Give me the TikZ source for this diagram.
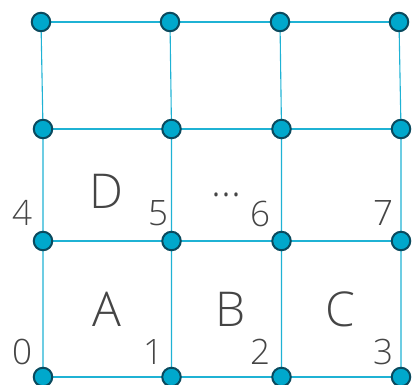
\documentclass[tikz,border=0pt]{standalone}
\usepackage{fontspec}
\setmainfont{Open Sans Light}
\usetikzlibrary{backgrounds}
\definecolor{edgec}{HTML}{1FB2D4}
\definecolor{fillc}{HTML}{00A8CC}
\definecolor{rimc}{HTML}{0A4A5E}
\definecolor{txtc}{HTML}{454545}
\begin{document}
\begin{tikzpicture}[x=1pt,y=-1pt,
  vtx/.style={circle,draw=rimc,fill=fillc,line width=2pt,minimum size=18.5pt,inner sep=0pt},
  edge/.style={draw=edgec,line width=1.1pt},
  num/.style={text=txtc,font=\fontsize{35}{35}\selectfont,inner sep=0pt},
  let/.style={text=txtc,font=\fontsize{48}{48}\selectfont,inner sep=0pt}]
\useasboundingbox (0,0) rectangle (413,385);
\node[vtx] (a0) at (43,377) {};
\node[vtx] (a1) at (171.5,377) {};
\node[vtx] (a2) at (281.5,377) {};
\node[vtx] (a3) at (401,377) {};
\node[vtx] (b0) at (43,241) {};
\node[vtx] (b1) at (171.5,241) {};
\node[vtx] (b2) at (281.5,241) {};
\node[vtx] (b3) at (401,241) {};
\node[vtx] (c0) at (43,129) {};
\node[vtx] (c1) at (171.5,129) {};
\node[vtx] (c2) at (281.5,129) {};
\node[vtx] (c3) at (401,129) {};
\node[vtx] (d0) at (41,22) {};
\node[vtx] (d1) at (170,22) {};
\node[vtx] (d2) at (280,22) {};
\node[vtx] (d3) at (399,22) {};
\begin{pgfonlayer}{background}
\foreach \r in {a,b,c,d}{
  \draw[edge] (\r0.center) -- (\r1.center) (\r1.center) -- (\r2.center) (\r2.center) -- (\r3.center);
}
\foreach \c in {0,1,2,3}{
  \draw[edge] (a\c.center) -- (b\c.center) (b\c.center) -- (c\c.center) (c\c.center) -- (d\c.center);
}
\end{pgfonlayer}
\node[num] (l0) at (22,352) {0};
\node[num] (l1) at (153,352) {1};
\node[num] (l2) at (260,352) {2};
\node[num] (l3) at (383,352) {3};
\node[num] (l4) at (22,213) {4};
\node[num] (l5) at (158,213) {5};
\node[num] (l6) at (260,214) {6};
\node[num] (l7) at (383,213) {7};
\node[let] (tA) at (107,309) {A};
\node[let] (tB) at (231,309) {B};
\node[let] (tC) at (340,309) {C};
\node[let] (tD) at (106,191) {D};
\node[text=txtc,font=\fontsize{42}{42}\selectfont,inner sep=0pt,anchor=base] (tdots) at (226.5,196.5) {...};
\end{tikzpicture}
\end{document}
